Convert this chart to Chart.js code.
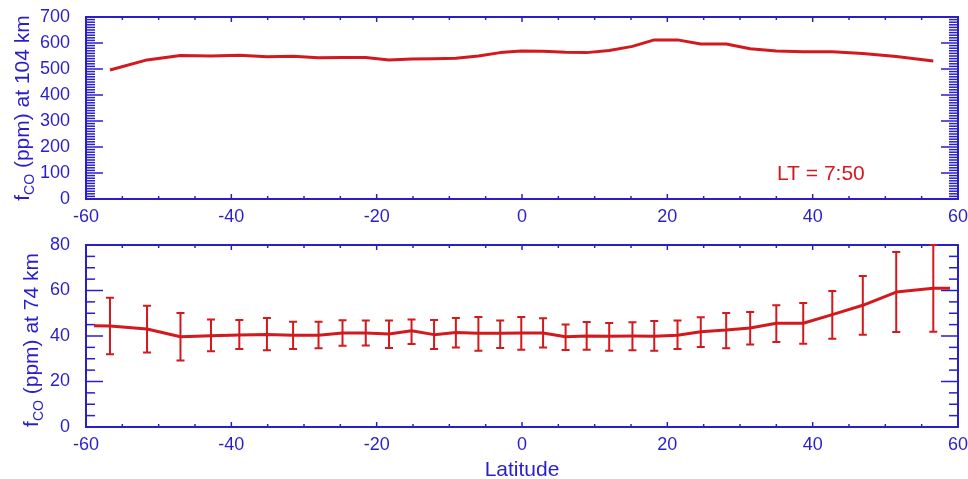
<!DOCTYPE html>
<html>
<head>
<meta charset="utf-8">
<script src="https://cdn.jsdelivr.net/npm/chart.js@4/dist/chart.umd.min.js"></script>
<style>
  html, body { margin: 0; padding: 0; background: #fff; overflow: hidden; }
  #wrap { position: relative; width: 968px; height: 479px; }
  #topChart { position: absolute; left: 0; top: 0; }
  #botChart { position: absolute; left: 0; top: 230px; }
</style>
</head>
<body>
<div id="wrap">
  <canvas id="topChart" width="968" height="230"></canvas>
  <canvas id="botChart" width="968" height="252"></canvas>
</div>
<script>
/* --- data --- */

// latitude of each retrieval bin (deg)
const latitudes = [
  -56.7, -51.6, -47.0, -42.8, -38.9, -35.1, -31.5, -28.0, -24.7, -21.5, -18.3,
  -15.2, -12.1, -9.1, -6.0, -3.0, -0.1, 2.9, 6.0, 8.9, 12.0, 15.2,
  18.2, 21.4, 24.6, 28.1, 31.4, 35.0, 38.7, 42.7, 46.9, 51.5, 56.6
];

// CO mixing ratio at 104 km (ppm)
const co104 = [
  496, 535, 552, 550, 553, 547, 549, 543, 544, 544, 535,
  538, 539, 541, 550, 563, 569, 568, 564, 563, 571, 587,
  612, 612, 596, 596, 578, 569, 566, 566, 560, 548, 531
];

// CO mixing ratio at 74 km (ppm) with error bar ends
const co74 = [
  44.4, 43.1, 39.7, 40.1, 40.4, 40.7, 40.3, 40.3, 41.3, 41.3, 40.9,
  42.3, 40.6, 41.5, 41.2, 41.2, 41.3, 41.3, 39.7, 40.0, 39.9, 40.0,
  39.9, 40.3, 41.9, 42.6, 43.5, 45.6, 45.6, 49.4, 53.5, 59.3, 61.0
];
const co74High = [
  56.8, 53.3, 50.1, 47.2, 47.0, 47.9, 46.3, 46.3, 46.9, 46.8, 46.8,
  47.3, 47.0, 47.9, 48.4, 46.8, 48.4, 47.8, 45.1, 46.2, 45.7, 46.0,
  46.6, 46.8, 48.2, 50.1, 50.5, 53.5, 54.5, 59.8, 66.4, 76.9, 80.1
];
const co74Low = [
  32.0, 32.7, 29.2, 33.3, 34.3, 33.7, 34.3, 34.6, 35.7, 35.8, 34.7,
  36.5, 34.3, 34.9, 33.5, 34.7, 34.0, 34.9, 33.8, 34.0, 33.5, 33.7,
  33.5, 34.3, 35.2, 34.6, 36.3, 37.4, 36.6, 38.8, 40.6, 41.8, 41.9
];
// the 74 km curve is carried flat out to these edge latitudes
const edgeLat74 = [-58.9, 58.9];
const edgeCO74 = [44.5, 61.0];

const latTicks = [-60, -40, -20, 0, 20, 40, 60];

/* --- style --- */

const BLUE = '#2a1ec8';
const RED = '#d2191e';
const FONT = '"Liberation Sans", Arial, Helvetica, sans-serif';

/* --- plugins --- */

// IDL-style box with inward ticks on all four sides
const frameTicks = {
  id: 'frameTicks',
  beforeDatasetsDraw(chart, args, o) {
    const { ctx, chartArea: a, scales: { x, y } } = chart;
    ctx.save();
    ctx.strokeStyle = BLUE;
    ctx.lineWidth = 1.5;
    const seg = (x1, y1, x2, y2) => {
      ctx.beginPath(); ctx.moveTo(x1, y1); ctx.lineTo(x2, y2); ctx.stroke();
    };
    for (let v = x.min; v <= x.max + 1e-6; v += o.xMinor) {
      const px = x.getPixelForValue(v);
      const len = Math.abs(v % o.xMajor) < 1e-6 ? o.xMajorLen : o.xMinorLen;
      seg(px, a.bottom, px, a.bottom - len);
      seg(px, a.top, px, a.top + len);
    }
    for (let v = y.min; v <= y.max + 1e-6; v += o.yMinor) {
      const py = y.getPixelForValue(v);
      const len = Math.abs(v % o.yMajor) < 1e-6 ? o.yMajorLen : o.yMinorLen;
      seg(a.left, py, a.left + len, py);
      seg(a.right, py, a.right - len, py);
    }
    ctx.lineWidth = 2;
    ctx.strokeRect(a.left, a.top, a.right - a.left, a.bottom - a.top);
    ctx.restore();
  }
};

// rotated y title "f_CO (ppm) at ..." with a real subscript
const coTitle = {
  id: 'coTitle',
  afterDraw(chart, args, o) {
    const ctx = chart.ctx;
    ctx.save();
    ctx.translate(o.x, o.y);
    ctx.rotate(-Math.PI / 2);
    ctx.fillStyle = BLUE;
    ctx.textBaseline = 'alphabetic';
    const big = '21px ' + FONT, small = '14px ' + FONT;
    ctx.font = big; const wf = ctx.measureText('f').width;
    const wr = ctx.measureText(o.rest).width;
    ctx.font = small; const ws = ctx.measureText('CO').width;
    let cx = -(wf + ws + wr) / 2;
    ctx.font = big; ctx.fillText('f', cx, 0); cx += wf;
    ctx.font = small; ctx.fillText('CO', cx, 5); cx += ws;
    ctx.font = big; ctx.fillText(o.rest, cx, 0);
    ctx.restore();
  }
};

// vertical error bars with caps
const errorBars = {
  id: 'errorBars',
  afterDatasetsDraw(chart, args, o) {
    if (!o.low) return;
    const { ctx, chartArea: a, scales: { x, y } } = chart;
    ctx.save();
    ctx.beginPath();
    ctx.rect(a.left, a.top - 1, a.right - a.left, a.bottom - a.top + 2);
    ctx.clip();
    ctx.strokeStyle = RED;
    ctx.lineWidth = 2;
    o.lat.forEach((lat, i) => {
      const px = x.getPixelForValue(lat);
      const y1 = y.getPixelForValue(o.low[i]);
      const y2 = y.getPixelForValue(o.high[i]);
      ctx.beginPath();
      ctx.moveTo(px, y1); ctx.lineTo(px, y2);
      ctx.moveTo(px - 4, y1); ctx.lineTo(px + 4, y1);
      ctx.moveTo(px - 4, y2); ctx.lineTo(px + 4, y2);
      ctx.stroke();
    });
    ctx.restore();
  }
};

// "LT = 7:50" note inside the upper panel
const ltNote = {
  id: 'ltNote',
  afterDraw(chart, args, o) {
    if (!o.text) return;
    const { ctx, chartArea: a } = chart;
    ctx.save();
    ctx.fillStyle = RED;
    ctx.font = '21px ' + FONT;
    ctx.textBaseline = 'alphabetic';
    ctx.fillText(o.text, a.right - 181, a.bottom - 19);
    ctx.restore();
  }
};

/* --- charts --- */

function makeConfig(points, yMax, yStep, xAxisHeight, extra) {
  return {
    type: 'line',
    data: {
      datasets: [{
        data: points,
        borderColor: RED,
        borderWidth: 3,
        pointRadius: 0,
        tension: 0,
        borderJoinStyle: 'round',
        clip: 2
      }]
    },
    options: {
      responsive: false,
      animation: false,
      layout: { padding: { top: extra.padTop, left: 0, right: 0, bottom: 0 } },
      plugins: {
        legend: { display: false },
        tooltip: { enabled: false },
        frameTicks: extra.ticks,
        coTitle: extra.title,
        errorBars: extra.err || {},
        ltNote: extra.note || {}
      },
      scales: {
        x: {
          type: 'linear',
          min: -60, max: 60,
          afterBuildTicks: s => { s.ticks = latTicks.map(v => ({ value: v })); },
          ticks: { color: BLUE, font: { family: FONT, size: 18 }, padding: -1, maxRotation: 0 },
          grid: { display: false },
          border: { display: false },
          title: extra.xTitle || { display: false },
          afterFit: s => { s.height = xAxisHeight; s.paddingLeft = 0; s.paddingRight = 10; }
        },
        y: {
          min: 0, max: yMax,
          ticks: { stepSize: yStep, color: BLUE, font: { family: FONT, size: 18 }, padding: 8 },
          grid: { display: false },
          border: { display: false },
          afterFit: s => { s.width = 86; s.paddingTop = 0; s.paddingBottom = 0; }
        }
      }
    },
    plugins: [frameTicks, coTitle, errorBars, ltNote]
  };
}

const topPoints = latitudes.map((lat, i) => ({ x: lat, y: co104[i] }));
const botPoints = [{ x: edgeLat74[0], y: edgeCO74[0] }]
  .concat(latitudes.map((lat, i) => ({ x: lat, y: co74[i] })))
  .concat([{ x: edgeLat74[1], y: edgeCO74[1] }]);

const topChart = new Chart(document.getElementById('topChart'), makeConfig(topPoints, 700, 100, 31, {
  padTop: 17,
  ticks: { xMinor: 5, xMajor: 20, xMinorLen: 3, xMajorLen: 5, yMinor: 10, yMajor: 100, yMinorLen: 9, yMajorLen: 17 },
  title: { x: 29, y: 108, rest: ' (ppm) at 104 km' },
  note: { text: 'LT = 7:50' }
}));

const botChart = new Chart(document.getElementById('botChart'), makeConfig(botPoints, 80, 20, 55, {
  padTop: 15,
  ticks: { xMinor: 5, xMajor: 20, xMinorLen: 3, xMajorLen: 5, yMinor: 5, yMajor: 20, yMinorLen: 9, yMajorLen: 17 },
  title: { x: 38, y: 110, rest: ' (ppm) at 74 km' },
  err: { lat: latitudes, low: co74Low, high: co74High },
  xTitle: { display: true, text: 'Latitude', color: BLUE, font: { family: FONT, size: 21, lineHeight: 1 }, padding: { top: 0, bottom: 1 } }
}));
</script>
</body>
</html>
